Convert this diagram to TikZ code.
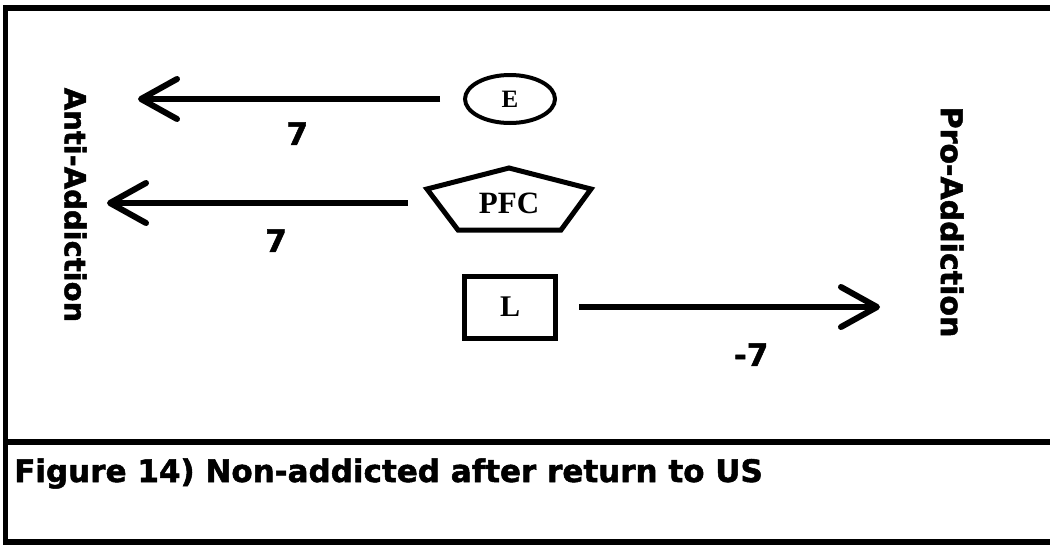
\documentclass[tikz,border=0pt]{standalone}
\usepackage{fontspec}
\setmainfont{Liberation Serif}
\setsansfont{DejaVu Sans}[BoldFeatures={FakeBold=1.6}]
\usetikzlibrary{calc, arrows.meta, shapes.geometric}
\tikzstyle{ell}=[draw, ellipse, line width=4pt, minimum width=90pt, minimum height=48pt, inner sep=0pt, font=\bfseries\fontsize{25}{25}\selectfont]
\tikzstyle{blk}=[draw, rectangle, line width=5pt, minimum width=91pt, minimum height=62pt, font=\bfseries\fontsize{30}{30}\selectfont]
\tikzstyle{pent}=[minimum width=166pt, inner sep=0pt, font=\bfseries\fontsize{31}{31}\selectfont]
\tikzstyle{num}=[font=\sffamily\bfseries\fontsize{31}{31}\selectfont]
\tikzstyle{side}=[rotate=-90, font=\sffamily\bfseries\fontsize{29}{29}\selectfont]

\begin{document}
\begin{tikzpicture}[x=1pt,y=-1pt,node distance=370pt,auto,>={Straight Barb[length=36pt,width=40pt,round]}]
      \useasboundingbox (0,0) rectangle (1050,544);
      % frame
      \draw[line width=5.5pt] (1050,8) -- (5.5,8) -- (5.5,542) -- (1050,542);
      \draw[line width=6pt] (5.5,442) -- (1050,442);
      \node [side] (anti) at (75.5,205) {Anti-Addiction};
      \node [side, font=\sffamily\bfseries\fontsize{30}{30}\selectfont] (pro) at (952,222) {Pro-Addiction};
      \node [ell] (e) at (510,99) {E};
      \node [coordinate] (etip) [left of=e, node distance=372pt] {};
      \node [pent] (pfc) at (509,203) {PFC};
      \draw[line width=5pt] ($(pfc)+(0,-35)$) -- ($(pfc)+(82,-14)$) -- ($(pfc)+(52,27)$)
        -- ($(pfc)+(-51,27)$) -- ($(pfc)+(-82,-14)$) -- cycle;
      \node [coordinate] (pfctip) [left of=pfc, node distance=402pt] {};
      \node [blk] (l) at (510,307) {L};
      \node [coordinate] (ltip) [right of=l] {};
      \path[->, line width=6pt] (e) edge[shorten <=23pt] node[num, pos=0.51, below=17pt] {7} (etip);
      \path[->, line width=6pt] (pfc) edge[shorten <=18pt] node[num, pos=0.47, below=20pt] {7} (pfctip);
      \path[->, line width=6pt] (l) edge[shorten <=21pt] node[num, pos=0.6, below=30pt] {-7} (ltip);
      \node [num, anchor=base west, inner sep=0pt] (cap) at (14,482) {Figure 14) Non-addicted after return to US};
\end{tikzpicture}
\end{document}
